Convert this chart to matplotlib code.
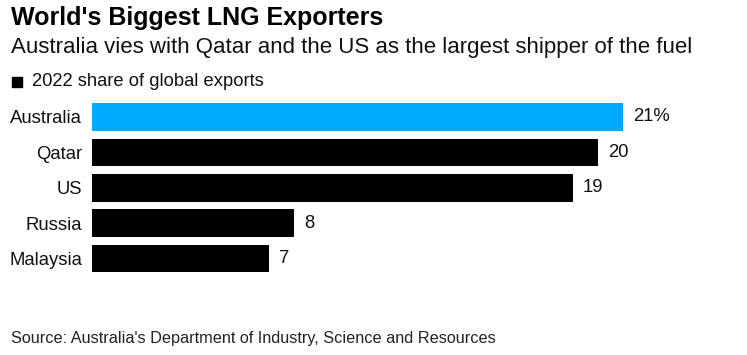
import matplotlib.pyplot as plt
from matplotlib.patches import Rectangle

countries = ['Australia', 'Qatar', 'US', 'Russia', 'Malaysia']
shares = [21, 20, 19, 8, 7]
value_labels = ['21%', '20', '19', '8', '7']
colors = ['#00AAFF', '#000000', '#000000', '#000000', '#000000']

plt.rcParams['font.family'] = ['Liberation Sans', 'DejaVu Sans']

fig = plt.figure(figsize=(7.47, 3.55), dpi=100)
ax = fig.add_axes([92/747, 0.2217, 607/747, 0.4986])

ax.barh(range(len(countries)), shares, height=0.78, color=colors, linewidth=0)
for i, (v, lab) in enumerate(zip(shares, value_labels)):
    ax.text(v + 0.4, i, lab, va='center', ha='left', fontsize=13.3, color='#111111')

ax.set_xlim(0, 24)
ax.set_ylim(4.5, -0.5)
ax.set_yticks(range(len(countries)))
ax.set_yticklabels(countries, fontsize=13.3, color='#111111')
ax.tick_params(axis='y', length=0, pad=7)
ax.set_xticks([])
for s in ax.spines.values():
    s.set_visible(False)

fig.text(11/747, 1 - 18/355, "World's Biggest LNG Exporters", fontsize=18, fontweight='bold', va='center')
fig.text(11/747, 1 - 47/355, 'Australia vies with Qatar and the US as the largest shipper of the fuel', fontsize=16, va='center', color='#111111')
fig.patches.append(Rectangle((12/747, 1 - 87/355), 10/747, 10/355, transform=fig.transFigure, color='black'))
fig.text(32/747, 1 - 82/355, '2022 share of global exports', fontsize=13.2, va='center', color='#111111')
fig.text(11/747, 1 - 338/355, "Source: Australia's Department of Industry, Science and Resources", fontsize=11.7, va='center', color='#222222')

fig.savefig('out.png', dpi=100)
